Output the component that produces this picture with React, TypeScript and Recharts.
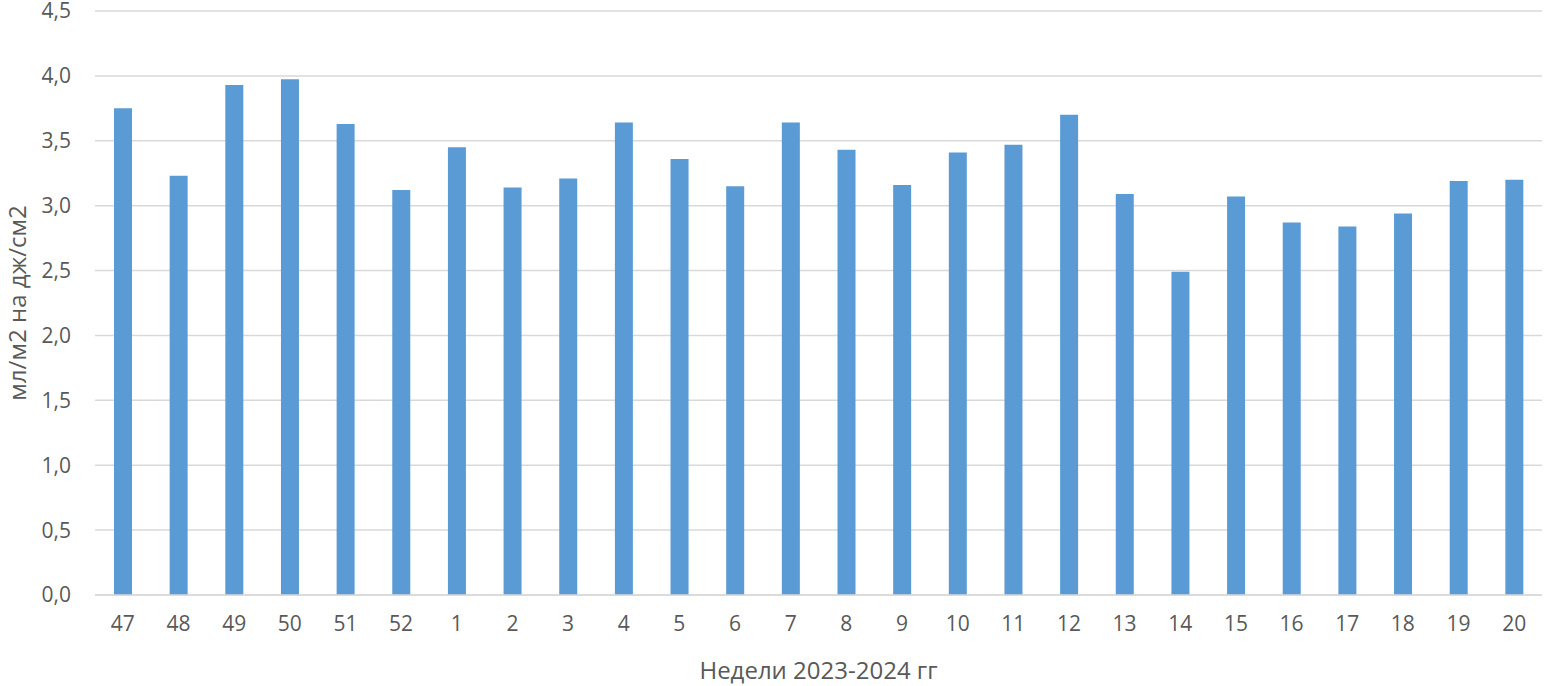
import { BarChart, Bar, XAxis, YAxis, CartesianGrid, Label } from 'recharts'

const weeks = ['47', '48', '49', '50', '51', '52', '1', '2', '3', '4', '5', '6', '7', '8', '9', '10', '11', '12', '13', '14', '15', '16', '17', '18', '19', '20']
const values = [3.75, 3.23, 3.93, 3.975, 3.63, 3.12, 3.45, 3.14, 3.21, 3.64, 3.36, 3.15, 3.64, 3.43, 3.16, 3.41, 3.47, 3.7, 3.09, 2.49, 3.07, 2.87, 2.84, 2.94, 3.19, 3.2]
const yTicks = [0, 0.5, 1, 1.5, 2, 2.5, 3, 3.5, 4, 4.5]

const data = weeks.map((week, i) => ({ week, value: values[i] }))

const textColor = '#595959'
const font = '"Open Sans", "Noto Sans", sans-serif'

export default function App() {
  return (
    <div style={{ position: 'absolute', left: 0, top: 0, background: '#fff', fontFamily: font }}>
      <BarChart width={1546} height={686} data={data} margin={{ top: 11, right: 4, left: 0, bottom: 0 }}>
        <CartesianGrid vertical={false} stroke="#d9d9d9" strokeWidth={1.5} />
        <XAxis
          dataKey="week"
          height={91}
          tickLine={false}
          axisLine={{ stroke: '#d9d9d9', strokeWidth: 1.5 }}
          tick={{ fill: textColor, fontSize: 21, fontFamily: font }}
          tickMargin={15}
          interval={0}
        >
          <Label
            content={({ viewBox }: any) => (
              <text
                x={viewBox.x + viewBox.width / 2}
                y={viewBox.y + 84}
                textAnchor="middle"
                fill={textColor}
                fontSize={24}
                fontFamily={font}
              >
                Недели 2023-2024 гг
              </text>
            )}
          />
        </XAxis>
        <YAxis
          width={95}
          domain={[0, 4.5]}
          ticks={yTicks}
          interval={0}
          tickLine={false}
          axisLine={false}
          tickMargin={18}
          tick={{ fill: textColor, fontSize: 21, fontFamily: font }}
          tickFormatter={(v: number) => v.toFixed(1).replace('.', ',')}
        >
          <Label
            content={({ viewBox }: any) => {
              const cy = viewBox.y + viewBox.height / 2
              return (
                <text
                  x={26}
                  y={cy}
                  transform={`rotate(-90 26 ${cy})`}
                  textAnchor="middle"
                  fill={textColor}
                  fontSize={24}
                  fontFamily={font}
                >
                  мл/м2 на дж/см2
                </text>
              )
            }}
          />
        </YAxis>
        <Bar dataKey="value" fill="#5b9bd5" barSize={18} isAnimationActive={false} />
      </BarChart>
    </div>
  )
}
